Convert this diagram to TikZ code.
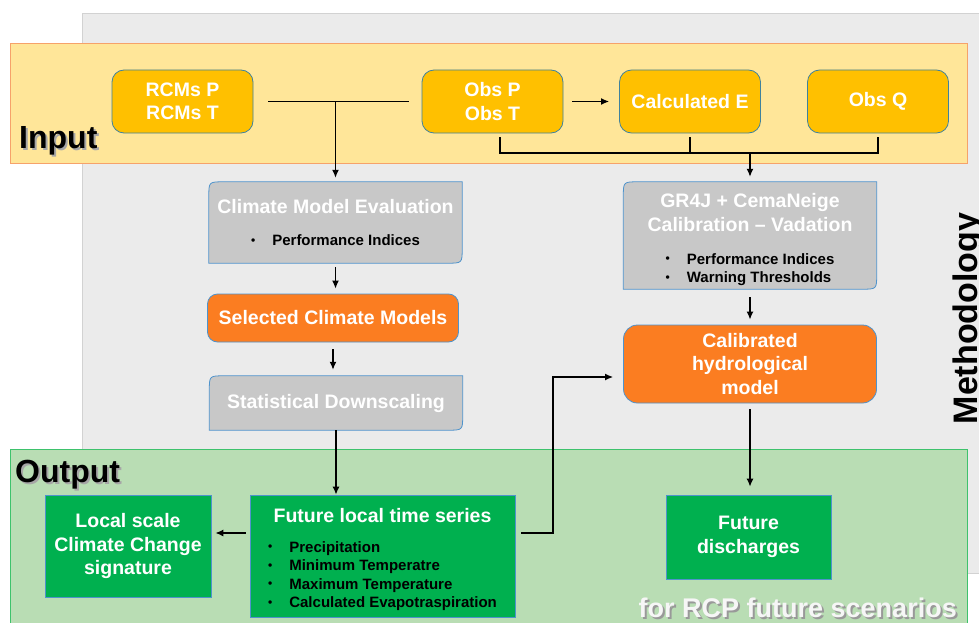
\documentclass[tikz,border=0pt]{standalone}
\usepackage{fontspec}
\setmainfont{Liberation Sans}
\usetikzlibrary{arrows.meta,positioning,backgrounds}

\definecolor{bandyellow}{HTML}{FFE699}
\definecolor{bandorange}{HTML}{F6A26A}
\definecolor{bandgreen}{HTML}{B9DDB4}
\definecolor{bandgreenline}{HTML}{3EC26C}
\definecolor{methgray}{HTML}{EBEBEB}
\definecolor{methline}{HTML}{D2D2D2}
\definecolor{inyellow}{HTML}{FFC000}
\definecolor{boxgray}{HTML}{C8C8C8}
\definecolor{boxorange}{HTML}{FB7D21}
\definecolor{boxgreen}{HTML}{00B04F}
\definecolor{boxline}{HTML}{4E93CC}
\definecolor{tealline}{HTML}{3F829E}

\newcommand{\titlefont}{\fontsize{19.5}{23.5}\selectfont\bfseries}
\newcommand{\listfont}{\fontsize{15}{18.5}\selectfont\bfseries}
\newcommand{\bandfont}{\fontsize{32}{38}\selectfont\bfseries}
\newcommand{\dotitem}{\raisebox{1.5pt}{\fontsize{12}{12}\selectfont\textbullet}}
\newcommand{\dropshadow}[2]{\makebox[0pt][l]{\hspace{2pt}\raisebox{-2pt}{\color{#2}#1}}#1}
\newcommand{\diagshape}[1]{%
  \draw[diagline] (#1.south west) -- ([yshift=-15pt]#1.north west)
    .. controls (#1.north west) .. ([xshift=15pt]#1.north west) -- (#1.north east)
    -- ([yshift=15pt]#1.south east)
    .. controls (#1.south east) .. ([xshift=-15pt]#1.south east) -- cycle;}

\begin{document}
\begin{tikzpicture}[
  x=1pt,
  y=-1pt,
  inbox/.style={draw=tealline,fill=inyellow,rounded corners=12pt,line width=0.8pt,
    minimum width=141pt,minimum height=63pt,text=white,font=\titlefont,align=center},
  graybox/.style={minimum width=253pt,text=white,font=\titlefont,align=center},
  orangebox/.style={draw=boxline,fill=boxorange,rounded corners=12pt,line width=0.8pt,
    text=white,font=\titlefont,align=center},
  greenbox/.style={draw=boxline,fill=boxgreen,line width=0.7pt,
    text=white,font=\titlefont,align=center},
  diagline/.style={draw=boxline,fill=boxgray,line width=0.8pt},
  bandlabel/.style={inner sep=0pt,font=\bandfont},
  link/.style={line width=1.4pt},
  arr/.style={-{Latex[length=8pt,width=7pt]},line width=1.4pt}
]
\useasboundingbox (0,0) rectangle (979,623);

% input row
\node[inbox] (rcm) at (182.5,101.5) {RCMs P\\RCMs T};
\node[inbox] (obs) at (492.5,101.5) {Obs P\\Obs T};
\node[inbox] (calce) at (690,101.5) {Calculated E};
\node[inbox] (obsq) at (878,101.5) {Obs Q};

% climate branch
\node[graybox,minimum height=81pt] (cme) at (335.5,222.5) {\rule{0pt}{20pt}Climate Model Evaluation\\[8pt]
  {\listfont\color{black}\begin{tabular}{@{}l@{\hspace{17pt}}l@{}}\dotitem & Performance Indices\end{tabular}}};
\node[orangebox,minimum width=251pt,minimum height=48pt,rounded corners=10pt] (sel) at (333,318) {Selected Climate Models};
\node[graybox,minimum height=54pt] (sds) at (336,403) {Statistical Downscaling};

% hydrological branch
\node[graybox,minimum height=107pt,inner ysep=0pt] (gr4j) at (750,235.5) {\rule{0pt}{25pt}GR4J + CemaNeige\\Calibration -- Vadation\\[19pt]
  {\listfont\color{black}\begin{tabular}{@{}l@{\hspace{17pt}}l@{}}\dotitem & Performance Indices\\ \dotitem & Warning Thresholds\end{tabular}}};
\node[orangebox,minimum width=253pt,minimum height=78pt,rounded corners=14pt] (cal) at (750,364) {Calibrated\\hydrological\\model};

% output row
\node[greenbox,minimum width=166pt,minimum height=102pt] (lsc) at (128,546) {Local scale\\Climate Change\\signature};
\node[greenbox,minimum width=265pt,minimum height=122pt] (flts) at (382.5,556) {\rule{0pt}{24pt}Future local time series\\[15pt]
  {\listfont\color{black}\begin{tabular}{@{}l@{\hspace{17pt}}l@{}}
  \dotitem & Precipitation\\
  \dotitem & Minimum Temperatre\\
  \dotitem & Maximum Temperature\\
  \dotitem & Calculated Evapotraspiration
  \end{tabular}}};
\node[greenbox,minimum width=165pt,minimum height=84pt] (fdis) at (748.5,537) {Future\\discharges};

% band labels
\node[bandlabel,anchor=base west] (input) at (19,148) {\dropshadow{Input}{gray!70}};
\node[bandlabel,anchor=base west] (output) at (15,482) {\dropshadow{Output}{gray!70}};
\node[bandlabel,rotate=90,anchor=base,font=\fontsize{34}{40}\selectfont\bfseries] (meth) at (977,318.5) {Methodology};
\node[inner sep=0pt,anchor=base east,text=white!93!gray,font=\fontsize{27}{32}\selectfont\bfseries] (rcp) at (957,617) {\dropshadow{for RCP future scenarios}{gray!80}};

% input links
\coordinate (bus) at (750,153);
\draw[link,shorten <=15pt,shorten >=13pt] (rcm.east) -- (obs.west);
\draw[arr,shorten >=4pt] (rcm.east -| cme.north) -- (cme.north);
\draw[arr,shorten <=9pt,shorten >=10pt] (obs.east) -- (calce.west);
\draw[link] ([xshift=7.5pt,yshift=-4pt]obs.south) |- (bus);
\draw[link] ([yshift=-4pt]obsq.south) |- (bus);
\draw[link] ([yshift=-4pt]calce.south) -- (calce.south |- bus);
\draw[arr,shorten >=5pt] (bus) -- (gr4j.north);

% climate links
\draw[arr,shorten <=4pt,shorten >=5pt] (cme.south) -- (cme.south |- sel.north);
\draw[arr,shorten <=7pt,shorten >=6pt] (sel.south) -- (sel.south |- sds.north);
\draw[arr] (sds.south) -- (sds.south |- flts.north);

% hydrological links
\draw[arr,shorten <=8pt,shorten >=5pt] (gr4j.south) -- (cal.north);
\draw[arr,shorten <=6pt,shorten >=8pt] (cal.south) -- (cal.south |- fdis.north);

% output links
\coordinate (tap) at (553,533);
\draw[arr,shorten <=4pt,shorten >=4pt] (flts.west |- tap) -- (lsc.east |- tap);
\draw[arr,shorten <=6pt,shorten >=10pt] (flts.east |- tap) -- (tap) |- ([yshift=-13pt]cal.west);

\begin{scope}[on background layer]
\fill[white] (0,0) rectangle (979,623);
\draw[methline,fill=methgray,line width=0.8pt] (82,13) rectangle (995,573);
\draw[bandorange,fill=bandyellow,line width=0.9pt] (10,43) rectangle (967,163);
\draw[bandgreenline,fill=bandgreen,line width=0.9pt] (10,449) rectangle (967,640);
\diagshape{cme}
\diagshape{sds}
\diagshape{gr4j}
\end{scope}
\end{tikzpicture}
\end{document}
